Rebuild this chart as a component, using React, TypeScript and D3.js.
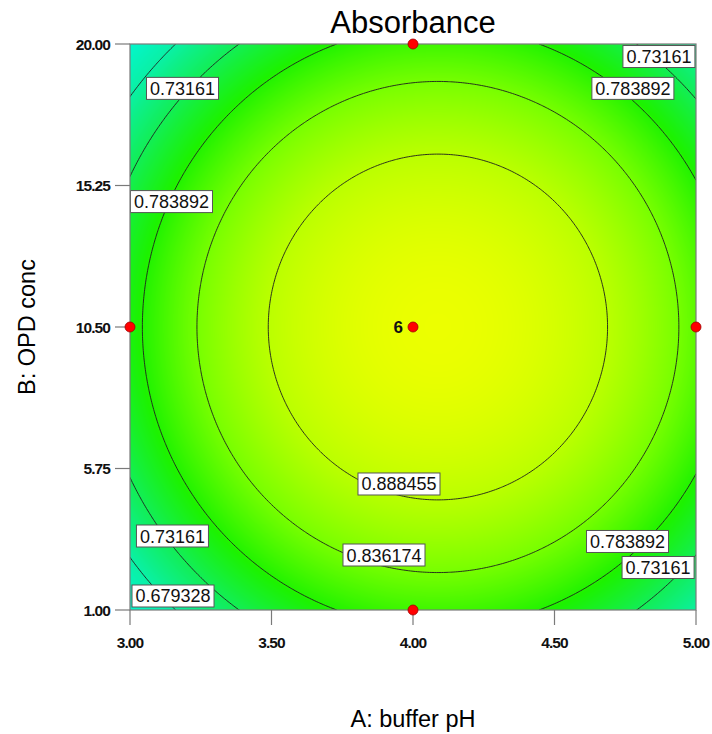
import React, { useMemo } from "react";
import * as d3 from "d3";

// Axes
const xDomain = [3, 5];
const yDomain = [1, 20];
const xTicks = [3.0, 3.5, 4.0, 4.5, 5.0];
const yTicks = [1.0, 5.75, 10.5, 15.25, 20.0];
const xTickLabels = ["3.00", "3.50", "4.00", "4.50", "5.00"];
const yTickLabels = ["1.00", "5.75", "10.50", "15.25", "20.00"];

// Quadratic response-surface model in coded units: Intercept, A, B, AB, A², B²
const modelCoefs = [0.93874, 0.02517, 0.0, 0.0, -0.143, -0.1377];

// Contour levels
const contourLevels = [0.679328, 0.73161, 0.783892, 0.836174, 0.888455];

// Contour labels (text, A, B)
const labelTexts = ["0.73161", "0.783892", "0.73161", "0.783892", "0.888455", "0.836174", "0.783892", "0.73161", "0.73161", "0.679328"];
const labelA = [3.1855, 3.1466, 4.869, 4.777, 3.9505, 3.8975, 4.758, 4.866, 3.15, 3.152];
const labelB = [18.51, 14.71, 19.58, 18.51, 5.23, 2.846, 3.3, 2.427, 3.484, 1.47];

// Design points
const designA = [4, 3, 4, 5, 4];
const designB = [20, 10.5, 10.5, 10.5, 1];
const designCount = ["", "", "6", "", ""];

// Colour scale stops
const colorStopValues = [0.62, 0.68, 0.73, 0.78, 0.84, 0.89, 0.94];
const colorStopColors = ["#00f8d8", "#0af0a4", "#12ee58", "#1cf200", "#7cff00", "#bcff00", "#ecff00"];

const FONT = "Arial, 'Liberation Sans', sans-serif";

function predict(pH: number, conc: number) {
  const A = (pH - 4) / 1;
  const B = (conc - 10.5) / 9.5;
  const [b0, b1, b2, b12, b11, b22] = modelCoefs;
  return b0 + b1 * A + b2 * B + b12 * A * B + b11 * A * A + b22 * B * B;
}

export default function App() {
  const W = 712, H = 734;
  const m = { left: 130, top: 44, right: 696, bottom: 610 };
  const x = d3.scaleLinear().domain(xDomain).range([m.left, m.right]);
  const y = d3.scaleLinear().domain(yDomain).range([m.bottom, m.top]);
  const color = d3
    .scaleLinear<string>()
    .domain(colorStopValues)
    .range(colorStopColors)
    .interpolate(d3.interpolateRgb)
    .clamp(true);

  const imgUrl = useMemo(() => {
    const w = m.right - m.left, h = m.bottom - m.top;
    const canvas = document.createElement("canvas");
    canvas.width = w;
    canvas.height = h;
    const ctx = canvas.getContext("2d")!;
    const img = ctx.createImageData(w, h);
    const lo = colorStopValues[0], hi = colorStopValues[colorStopValues.length - 1];
    const N = 1024;
    const lut = d3.range(N).map((k) => d3.rgb(color(lo + ((hi - lo) * k) / (N - 1))));
    for (let j = 0; j < h; j++) {
      const conc = y.invert(m.top + j + 0.5);
      for (let i = 0; i < w; i++) {
        const pH = x.invert(m.left + i + 0.5);
        const v = predict(pH, conc);
        let k = Math.round(((v - lo) / (hi - lo)) * (N - 1));
        k = Math.max(0, Math.min(N - 1, k));
        const c = lut[k];
        const p = (j * w + i) * 4;
        img.data[p] = c.r;
        img.data[p + 1] = c.g;
        img.data[p + 2] = c.b;
        img.data[p + 3] = 255;
      }
    }
    ctx.putImageData(img, 0, 0);
    return canvas.toDataURL();
  }, []);

  const n = 241;
  const stepA = (xDomain[1] - xDomain[0]) / (n - 1);
  const stepB = (yDomain[1] - yDomain[0]) / (n - 1);
  const values: number[] = new Array(n * n);
  for (let j = 0; j < n; j++) {
    const conc = yDomain[1] - j * stepB;
    for (let i = 0; i < n; i++) {
      values[j * n + i] = predict(xDomain[0] + i * stepA, conc);
    }
  }
  const contours = d3.contours().size([n, n]).thresholds(contourLevels)(values);
  const proj = d3.geoTransform({
    point(px: number, py: number) {
      (this as any).stream.point(x(xDomain[0] + (px - 0.5) * stepA), y(yDomain[1] - (py - 0.5) * stepB));
    },
  });
  const path = d3.geoPath(proj as any);

  const frame = "#7a7a7a";

  return (
    <svg width={W} height={H} style={{ position: "absolute", left: 0, top: 0, background: "#fff" }}>
      <defs>
        <clipPath id="plotClip">
          <rect x={m.left} y={m.top} width={m.right - m.left} height={m.bottom - m.top} />
        </clipPath>
      </defs>
      <image href={imgUrl} x={m.left} y={m.top} width={m.right - m.left} height={m.bottom - m.top} preserveAspectRatio="none" />
      <g clipPath="url(#plotClip)">
        {contours.map((c, i) => (
          <path key={i} d={path(c as any) || ""} fill="none" stroke="#1e1e1e" strokeWidth={0.9} />
        ))}
      </g>
      {/* contour labels */}
      <g clipPath="url(#plotClip)">
        {labelTexts.map((t, i) => {
          const cx = x(labelA[i]);
          const cy = y(labelB[i]);
          const digits = t.replace(".", "").length;
          const bw = digits * 10 + 12;
          const bh = 22;
          return (
            <g key={i}>
              <rect x={cx - bw / 2} y={cy - bh / 2} width={bw} height={bh} fill="#fff" stroke="#555" strokeWidth={1} />
              <text x={cx} y={cy + 6.5} textAnchor="middle" fontFamily={FONT} fontSize={18} fill="#111">
                {t}
              </text>
            </g>
          );
        })}
      </g>
      {/* frame */}
      <rect x={m.left} y={m.top} width={m.right - m.left} height={m.bottom - m.top} fill="none" stroke={frame} strokeWidth={1.2} />
      {/* x ticks */}
      {xTicks.map((t, i) => (
        <g key={"xt" + i}>
          <line x1={x(t)} x2={x(t)} y1={m.bottom} y2={m.bottom + 15} stroke={frame} strokeWidth={1.2} />
          <text x={x(t)} y={648} textAnchor="middle" fontFamily={FONT} fontWeight="bold" fontSize={15.5} letterSpacing={-0.9} fill="#111">
            {xTickLabels[i]}
          </text>
        </g>
      ))}
      {/* y ticks */}
      {yTicks.map((t, i) => (
        <g key={"yt" + i}>
          <line x1={m.left - 15} x2={m.left} y1={y(t)} y2={y(t)} stroke={frame} strokeWidth={1.2} />
          <text x={110} y={y(t) + 5.5} textAnchor="end" fontFamily={FONT} fontWeight="bold" fontSize={15.5} letterSpacing={-0.9} fill="#111">
            {yTickLabels[i]}
          </text>
        </g>
      ))}
      {/* design points */}
      {designA.map((a, i) => (
        <g key={"dp" + i}>
          <circle cx={x(a)} cy={y(designB[i])} r={5} fill="#ff0000" stroke="#a00000" strokeWidth={0.8} />
          {designCount[i] && (
            <text x={x(a) - 10} y={y(designB[i]) + 6} textAnchor="end" fontFamily={FONT} fontWeight="bold" fontSize={17} fill="#111">
              {designCount[i]}
            </text>
          )}
        </g>
      ))}
      {/* title */}
      <text x={(m.left + m.right) / 2} y={33} textAnchor="middle" fontFamily={FONT} fontSize={31} fill="#000">
        Absorbance
      </text>
      <text x={(m.left + m.right) / 2} y={727} textAnchor="middle" fontFamily={FONT} fontSize={23.5} fill="#000">
        A: buffer pH
      </text>
      <text transform={`translate(35, ${(m.top + m.bottom) / 2}) rotate(-90)`} textAnchor="middle" fontFamily={FONT} fontSize={23.5} fill="#000">
        B: OPD conc
      </text>
    </svg>
  );
}
